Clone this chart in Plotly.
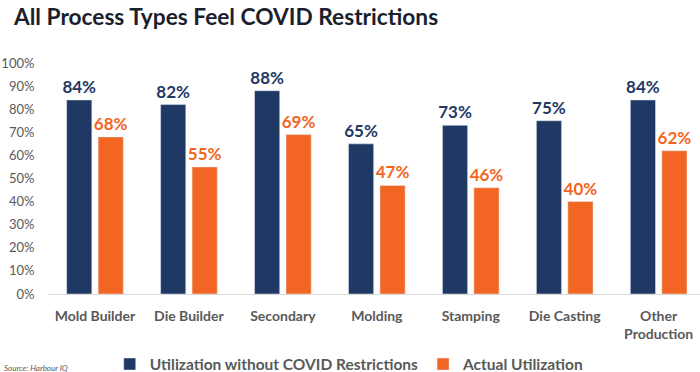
import plotly.graph_objects as go

categories = ["Mold Builder", "Die Builder", "Secondary", "Molding", "Stamping", "Die Casting", "Other<br>Production"]
without_covid = [0.84, 0.82, 0.88, 0.65, 0.73, 0.75, 0.84]
actual = [0.68, 0.55, 0.69, 0.47, 0.46, 0.40, 0.62]
series_names = ["Utilization without COVID Restrictions", "Actual Utilization"]
y_ticks = [0, 0.1, 0.2, 0.3, 0.4, 0.5, 0.6, 0.7, 0.8, 0.9, 1.0]

NAVY = "#1F3864"
ORANGE = "#F26522"
GRAY = "#595959"
FONT = "Lato"

fig = go.Figure()
for name, vals, col in [(series_names[0], without_covid, NAVY), (series_names[1], actual, ORANGE)]:
    fig.add_trace(go.Bar(
        x=categories, y=vals, name=name, marker_color=col,
        text=[f"{round(v*100)}%" for v in vals],
        textposition="outside", constraintext="none",
        textfont=dict(family=FONT, size=17, color=col, weight="bold"),
        cliponaxis=False,
    ))

fig.update_layout(
    width=700, height=372,
    margin=dict(l=48, r=0, t=63, b=78, autoexpand=False),
    paper_bgcolor="white", plot_bgcolor="white",
    barmode="group", bargap=0.33, bargroupgap=0.2,
    title=dict(text="<b>All Process Types Feel COVID Restrictions</b>",
               font=dict(family=FONT, size=22.7, color="#1B1F2E"),
               xref="container", x=14/700, xanchor="left",
               yref="container", y=1-17/372, yanchor="middle"),
    showlegend=True,
    legend=dict(orientation="h", x=0.462, xanchor="center", y=-0.305, yanchor="middle",
                font=dict(family=FONT, size=15.5, color=GRAY, weight="bold"),
                traceorder="normal"),
)
fig.update_xaxes(range=[-0.5, 6.44], showgrid=False, showline=True, linecolor="#D9D9D9", linewidth=1,
                 ticks="outside", ticklen=9, tickcolor="rgba(0,0,0,0)",
                 tickfont=dict(family=FONT, size=14, color=GRAY, weight="bold"))
fig.update_yaxes(range=[0, 1], tickvals=y_ticks, tickformat=".0%", showgrid=False, zeroline=False,
                 ticks="outside", ticklen=10, tickcolor="rgba(0,0,0,0)",
                 tickfont=dict(family=FONT, size=13, color=GRAY))

fig.add_annotation(text="<i>Source: Harbour IQ</i>", xref="paper", yref="paper",
                   x=-46/652, xanchor="left", y=(294-368)/231, yanchor="middle",
                   showarrow=False, font=dict(family=FONT, size=8, color=GRAY))

fig.write_html("out.html", config={"displayModeBar": False},
               post_script="document.body.style.margin='0';")
